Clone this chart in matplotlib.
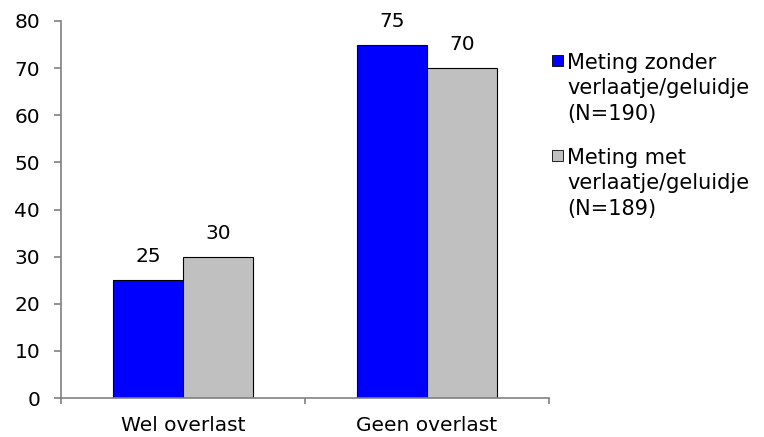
"""Grouped bar chart: overlast met/zonder verlaatje/geluidje."""
import numpy as np
import matplotlib
matplotlib.use("Agg")
import matplotlib.pyplot as plt
from matplotlib.patches import Rectangle

categories = ["Wel overlast", "Geen overlast"]
zonder = [25, 75]
met = [30, 70]
series_labels = ["Meting zonder\nverlaatje/geluidje\n(N=190)",
                 "Meting met\nverlaatje/geluidje\n(N=189)"]
colors = ["#0000FF", "#C0C0C0"]

plt.rcParams["font.family"] = ["DejaVu Sans"]
FS = 14.5
W, H = 764, 437

fig = plt.figure(figsize=(W / 100, H / 100), dpi=100)
ax = fig.add_axes([61 / W, 1 - 398 / H, (549 - 61) / W, (398 - 21) / H])

x = np.arange(len(categories))
bw = 0.287
for vals, off, col in [(zonder, -bw / 2, colors[0]), (met, bw / 2, colors[1])]:
    bars = ax.bar(x + off, vals, bw, color=col, edgecolor="black", linewidth=0.8)
    for b, v in zip(bars, vals):
        ax.annotate(f"{v}", (b.get_x() + b.get_width() / 2, v),
                    xytext=(0, 10), textcoords="offset points",
                    ha="center", va="bottom", fontsize=FS)

ax.set_xlim(-0.5, len(categories) - 0.5)
ax.set_ylim(0, 80)
ax.set_yticks(range(0, 81, 10))
ax.set_xticks(x)
ax.set_xticklabels(categories)
ax.set_xticks(np.arange(-0.5, len(categories), 1), minor=True)

for s in ["top", "right"]:
    ax.spines[s].set_visible(False)
for s in ["left", "bottom"]:
    ax.spines[s].set_color("#808080")
    ax.spines[s].set_linewidth(1.2)

ax.tick_params(axis="y", direction="out", length=5, width=1.2,
               color="#808080", pad=10, labelsize=FS)
ax.tick_params(axis="x", which="major", length=0, pad=13, labelsize=FS)
ax.tick_params(axis="x", which="minor", direction="out", length=4,
               width=1.2, color="#808080")

# legend drawn by hand so the square sits at the first text line
for i, (lab, col) in enumerate(zip(series_labels, colors)):
    y0 = 55 + i * 95
    fig.patches.append(Rectangle((552 / W, 1 - (y0 + 11) / H), 11 / W, 11 / H,
                                 transform=fig.transFigure, facecolor=col,
                                 edgecolor="black", linewidth=0.6))
    fig.text(567 / W, 1 - (y0 - 2) / H, lab, ha="left", va="top",
             fontsize=15, linespacing=1.33)

fig.savefig("out.png", dpi=100)
